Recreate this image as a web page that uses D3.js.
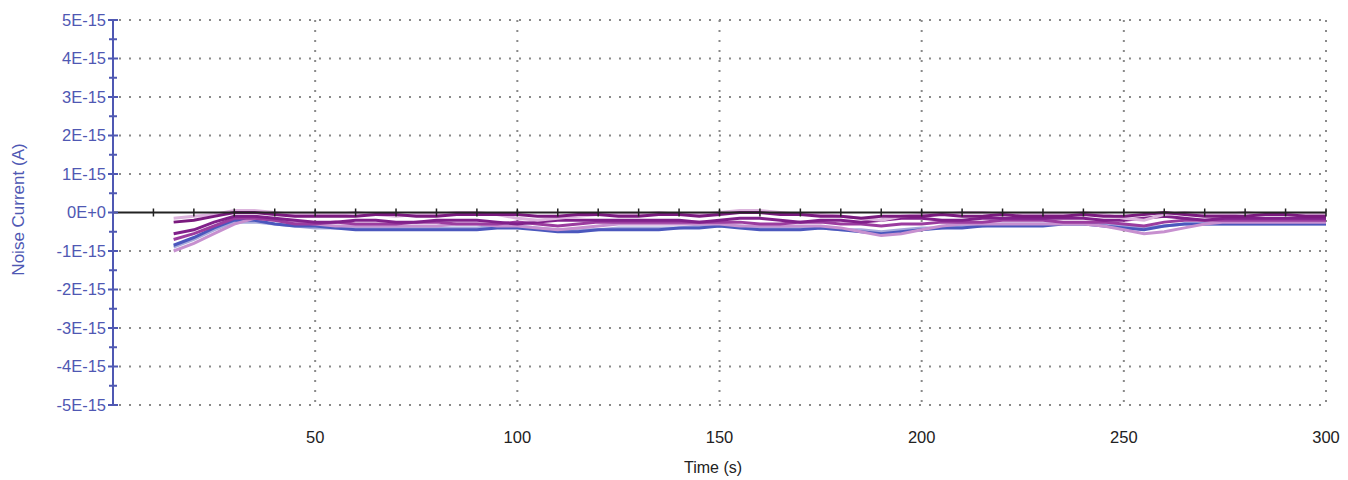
<!DOCTYPE html>
<html>
<head>
<meta charset="utf-8">
<script src="https://cdn.jsdelivr.net/npm/d3@7"></script>
<style>
  body { margin: 0; background: #fff; }
  svg { display: block; font-family: Arial, "Liberation Sans", sans-serif; }
</style>
</head>
<body>
<svg id="chart" width="1348" height="480"></svg>
<script>
// time samples (s)
const times = d3.range(15, 301, 5);

// noise current per run, in units of 1E-15 A
const runA = [-0.25,-0.2,-0.1,0,0,-0.05,-0.1,-0.1,-0.1,-0.1,-0.05,-0.05,-0.1,-0.1,-0.05,-0.05,-0.05,-0.05,-0.1,-0.1,-0.05,-0.05,-0.1,-0.1,-0.05,-0.05,-0.1,-0.05,0,0,-0.05,-0.05,-0.1,-0.1,-0.15,-0.1,-0.1,-0.1,-0.05,-0.1,-0.1,-0.05,-0.1,-0.1,-0.1,-0.05,-0.1,-0.1,-0.05,0,-0.05,-0.1,-0.1,-0.1,-0.05,-0.05,-0.1,-0.1];
const runB = [-0.55,-0.45,-0.25,-0.1,-0.1,-0.15,-0.2,-0.25,-0.25,-0.2,-0.2,-0.25,-0.25,-0.2,-0.2,-0.2,-0.25,-0.3,-0.25,-0.2,-0.2,-0.2,-0.2,-0.2,-0.2,-0.2,-0.25,-0.2,-0.15,-0.15,-0.2,-0.25,-0.2,-0.2,-0.25,-0.2,-0.15,-0.15,-0.2,-0.2,-0.15,-0.15,-0.15,-0.15,-0.15,-0.15,-0.2,-0.2,-0.15,-0.1,-0.15,-0.2,-0.15,-0.15,-0.15,-0.15,-0.15,-0.15];
const runC = [-0.85,-0.65,-0.4,-0.2,-0.2,-0.3,-0.35,-0.35,-0.4,-0.45,-0.45,-0.45,-0.45,-0.45,-0.45,-0.45,-0.4,-0.4,-0.45,-0.5,-0.5,-0.45,-0.45,-0.45,-0.45,-0.4,-0.4,-0.35,-0.4,-0.45,-0.45,-0.45,-0.4,-0.45,-0.5,-0.55,-0.5,-0.45,-0.4,-0.4,-0.35,-0.35,-0.35,-0.35,-0.3,-0.3,-0.35,-0.4,-0.45,-0.35,-0.3,-0.3,-0.3,-0.3,-0.3,-0.3,-0.3,-0.3];
const runD = [-1.0,-0.8,-0.55,-0.3,-0.15,-0.2,-0.25,-0.3,-0.35,-0.35,-0.35,-0.35,-0.35,-0.35,-0.3,-0.3,-0.35,-0.35,-0.4,-0.45,-0.4,-0.35,-0.3,-0.3,-0.3,-0.3,-0.3,-0.3,-0.35,-0.35,-0.35,-0.35,-0.35,-0.4,-0.5,-0.6,-0.55,-0.45,-0.35,-0.3,-0.3,-0.3,-0.3,-0.3,-0.3,-0.3,-0.35,-0.45,-0.55,-0.5,-0.4,-0.3,-0.25,-0.25,-0.25,-0.25,-0.25,-0.25];
const runE = [-0.15,-0.1,-0.05,0.05,0.05,0,-0.05,-0.05,-0.05,0,-0.05,-0.1,-0.05,-0.05,0,0,-0.05,-0.15,-0.2,-0.15,-0.1,-0.05,-0.05,-0.05,0,-0.05,-0.05,0,0.05,0.05,0,-0.05,-0.05,-0.1,-0.15,-0.2,-0.1,-0.05,-0.05,0,0,-0.05,-0.05,-0.05,-0.05,0,-0.05,-0.15,-0.2,-0.05,0,-0.05,-0.05,0,-0.05,-0.05,-0.05,-0.05];
const runF = [-0.7,-0.55,-0.35,-0.15,-0.15,-0.2,-0.3,-0.3,-0.25,-0.3,-0.3,-0.3,-0.25,-0.25,-0.3,-0.3,-0.3,-0.25,-0.3,-0.35,-0.3,-0.25,-0.25,-0.25,-0.25,-0.25,-0.25,-0.25,-0.25,-0.3,-0.3,-0.25,-0.25,-0.3,-0.3,-0.35,-0.3,-0.3,-0.25,-0.25,-0.25,-0.2,-0.2,-0.2,-0.25,-0.25,-0.25,-0.3,-0.35,-0.25,-0.2,-0.2,-0.2,-0.2,-0.2,-0.2,-0.2,-0.2];
const runG = [-0.9,-0.7,-0.45,-0.25,-0.25,-0.3,-0.35,-0.4,-0.4,-0.4,-0.4,-0.4,-0.4,-0.4,-0.4,-0.4,-0.35,-0.35,-0.4,-0.45,-0.45,-0.45,-0.4,-0.4,-0.4,-0.4,-0.35,-0.35,-0.35,-0.4,-0.4,-0.4,-0.4,-0.45,-0.45,-0.5,-0.45,-0.4,-0.4,-0.35,-0.35,-0.3,-0.3,-0.3,-0.3,-0.3,-0.3,-0.35,-0.4,-0.35,-0.3,-0.3,-0.3,-0.3,-0.3,-0.3,-0.3,-0.3];

const runs = [
  { values: runG, color: "#a7aadb" },
  { values: runC, color: "#4b57bd" },
  { values: runD, color: "#c790cf" },
  { values: runF, color: "#9b3c9f" },
  { values: runB, color: "#80208a" },
  { values: runE, color: "#dcb4dd" },
  { values: runA, color: "#7a1a7e" }
];

const xTicks = [50, 100, 150, 200, 250, 300];
const yTicks = [5, 4, 3, 2, 1, 0, -1, -2, -3, -4, -5];
const yLabels = ["5E-15", "4E-15", "3E-15", "2E-15", "1E-15", "0E+0", "-1E-15", "-2E-15", "-3E-15", "-4E-15", "-5E-15"];

const svg = d3.select("#chart");
const plotLeft = 113, plotRight = 1326, plotTop = 20, plotBottom = 405;
const axisBlue = "#4f58b3";

const x = d3.scaleLinear().domain([0, 300]).range([plotLeft, plotRight]);
const y = d3.scaleLinear().domain([-5e-15, 5e-15]).range([plotBottom, plotTop]);

// dotted grid
const grid = svg.append("g")
    .attr("stroke", "#8a8a8a")
    .attr("stroke-width", 2)
    .attr("stroke-dasharray", "2,8");

grid.selectAll("line.h")
  .data(yTicks.filter(d => d !== 0))
  .join("line")
    .attr("class", "h")
    .attr("x1", plotLeft + 6).attr("x2", plotRight)
    .attr("y1", d => y(d * 1e-15)).attr("y2", d => y(d * 1e-15));

grid.selectAll("line.v")
  .data(xTicks)
  .join("line")
    .attr("class", "v")
    .attr("x1", d => x(d)).attr("x2", d => x(d))
    .attr("y1", plotTop).attr("y2", plotBottom);

// runs
const line = d3.line()
    .x((d, i) => x(times[i]))
    .y(d => y(d * 1e-15));

svg.append("g")
    .attr("fill", "none")
    .attr("stroke-width", 3)
  .selectAll("path")
  .data(runs)
  .join("path")
    .attr("stroke", d => d.color)
    .attr("d", d => line(d.values));

// zero line with minor ticks every 10 s
const zero = svg.append("g").attr("stroke", "#222");
zero.append("line")
    .attr("x1", plotLeft).attr("x2", plotRight)
    .attr("y1", y(0)).attr("y2", y(0))
    .attr("stroke-width", 2);
zero.selectAll("line.t")
  .data(d3.range(10, 301, 10))
  .join("line")
    .attr("class", "t")
    .attr("x1", d => x(d)).attr("x2", d => x(d))
    .attr("y1", y(0) - 4).attr("y2", y(0) + 4)
    .attr("stroke-width", 1.5);

// y axis
const yAxis = svg.append("g").attr("stroke", axisBlue).attr("stroke-width", 2);
yAxis.append("line")
    .attr("x1", plotLeft).attr("x2", plotLeft)
    .attr("y1", plotTop).attr("y2", plotBottom);
yAxis.selectAll("line.major")
  .data(yTicks)
  .join("line")
    .attr("class", "major")
    .attr("x1", plotLeft - 5).attr("x2", plotLeft + 5)
    .attr("y1", d => y(d * 1e-15)).attr("y2", d => y(d * 1e-15));
yAxis.selectAll("line.minor")
  .data(d3.range(-4.5, 5, 1))
  .join("line")
    .attr("class", "minor")
    .attr("x1", plotLeft - 4).attr("x2", plotLeft + 4)
    .attr("y1", d => y(d * 1e-15)).attr("y2", d => y(d * 1e-15));

svg.append("g")
    .attr("fill", axisBlue)
    .attr("font-size", 16.5)
    .attr("text-anchor", "end")
  .selectAll("text")
  .data(yTicks)
  .join("text")
    .attr("x", plotLeft - 7)
    .attr("y", d => y(d * 1e-15))
    .attr("dy", "0.36em")
    .text((d, i) => yLabels[i]);

svg.append("text")
    .attr("transform", `translate(24,${y(0) - 3}) rotate(-90)`)
    .attr("text-anchor", "middle")
    .attr("fill", axisBlue)
    .attr("font-size", 17)
    .text("Noise Current (A)");

// x labels
svg.append("g")
    .attr("fill", "#222")
    .attr("font-size", 16.5)
    .attr("text-anchor", "middle")
  .selectAll("text")
  .data(xTicks)
  .join("text")
    .attr("x", d => x(d))
    .attr("y", 443)
    .text(d => d);

svg.append("text")
    .attr("x", 713).attr("y", 473)
    .attr("text-anchor", "middle")
    .attr("fill", "#222")
    .attr("font-size", 16)
    .text("Time (s)");
</script>
</body>
</html>
